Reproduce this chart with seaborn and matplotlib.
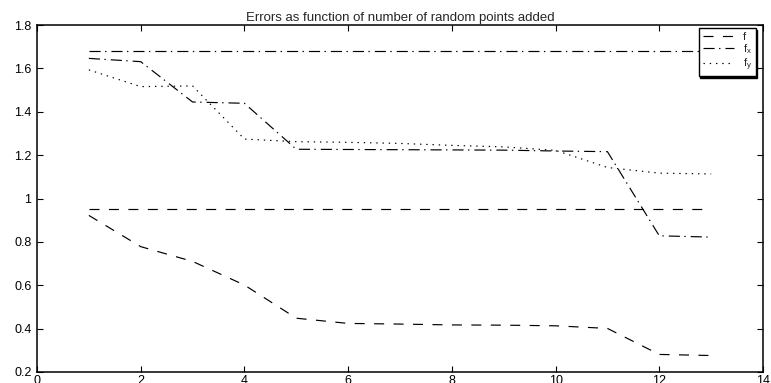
import matplotlib
matplotlib.use("Agg")
import matplotlib.pyplot as plt
import seaborn as sns
import pandas as pd
from matplotlib.ticker import FormatStrFormatter

# ---- data ----
points_added = [1, 2, 3, 4, 5, 6, 7, 8, 9, 10, 11, 12, 13]
err_f = [0.922, 0.778, 0.710, 0.601, 0.448, 0.424, 0.421, 0.417, 0.416, 0.413, 0.401, 0.281, 0.276]
err_fx = [1.646, 1.631, 1.445, 1.439, 1.227, 1.226, 1.225, 1.224, 1.223, 1.219, 1.216, 0.828, 0.822]
err_fy = [1.593, 1.516, 1.519, 1.274, 1.262, 1.259, 1.254, 1.245, 1.238, 1.222, 1.143, 1.117, 1.113]
ref_f = 0.952
ref_fx = 1.680
legend_labels = ["f", r"f$_\mathregular{x}$", r"f$_\mathregular{y}$"]
x_ticks = [0, 2, 4, 6, 8, 10, 12, 14]
y_ticks = [0.2, 0.4, 0.6, 0.8, 1.0, 1.2, 1.4, 1.6, 1.8]
title = "Errors as function of number of random points added"

sns.set_style("white")
plt.rcParams["font.family"] = ["Liberation Sans", "DejaVu Sans"]
plt.rcParams["mathtext.fontset"] = "custom"
plt.rcParams["mathtext.rm"] = "Liberation Sans"
plt.rcParams["lines.scale_dashes"] = False

df = pd.DataFrame({"x": points_added, "f": err_f, "fx": err_fx, "fy": err_fy})

fig = plt.figure(figsize=(7.71, 3.83), dpi=100)
ax = fig.add_axes([37 / 771, 1 - 372 / 383, 726 / 771, 347 / 383])

dashed = (0, (7.2, 6.8))
dashdot = (0, (8, 3.2, 1, 3.6))
dotted = (0, (1, 3.5))
lw = 0.85

sns.lineplot(data=df, x="x", y="f", ax=ax, color="black", lw=lw, linestyle=dashed, label=legend_labels[0])
sns.lineplot(data=df, x="x", y="fx", ax=ax, color="black", lw=lw, linestyle=dashdot, label=legend_labels[1])
sns.lineplot(data=df, x="x", y="fy", ax=ax, color="black", lw=lw, linestyle=dotted, label=legend_labels[2])

xr = [points_added[0], points_added[-1]]
ax.plot(xr, [ref_f, ref_f], color="black", lw=lw, linestyle=dashed)
ax.plot(xr, [ref_fx, ref_fx], color="black", lw=lw, linestyle=dashdot)

ax.set_xlim(0, 14)
ax.set_ylim(0.2, 1.8)
ax.set_xticks(x_ticks)
ax.set_yticks(y_ticks)
ax.yaxis.set_major_formatter(FormatStrFormatter("%g"))
ax.set_xlabel("")
ax.set_ylabel("")
for s in ax.spines.values():
    s.set_visible(True)
    s.set_color("black")
    s.set_linewidth(1.1)
ax.tick_params(direction="in", length=4, width=0.8, top=True, right=True,
               bottom=True, left=True, labelsize=9, colors="black")
ax.tick_params(axis="y", pad=4)
ax.tick_params(axis="x", pad=2)
ax.set_title(title, fontsize=9.5, pad=3)

leg = ax.legend(loc="upper right", bbox_to_anchor=(0.990, 0.99), frameon=True,
                fancybox=False, fontsize=8, handlelength=2.8,
                labelspacing=0.0, borderpad=0.35, handletextpad=0.8,
                borderaxespad=0.0,
                shadow={"color": "black", "alpha": 1.0, "ox": 0.8, "oy": -0.8})
leg.get_frame().set_edgecolor("black")
leg.get_frame().set_linewidth(1.0)
leg.get_frame().set_alpha(1.0)

fig.savefig("out.png", dpi=100)
